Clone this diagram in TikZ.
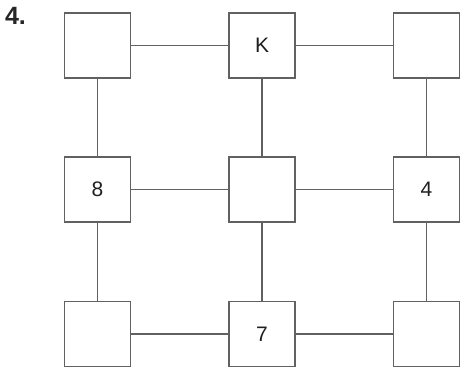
\documentclass[tikz,border=0pt]{standalone}
\usepackage{fontspec}
\setmainfont{Liberation Sans}
\begin{document}
\begin{tikzpicture}[x=1pt,y=-1pt,
  cell/.style={draw=black!62, line width=1.2pt, fill=white, minimum width=66pt, minimum height=65pt, inner sep=0pt, font=\fontsize{21}{21}\selectfont, text=black!88},
  link/.style={draw=black!62, line width=1.1pt}]
\useasboundingbox (0,0) rectangle (460,370);
\node[font=\bfseries\fontsize{25}{25}\selectfont, text=black!85, inner sep=0pt] (num) at (15.5,16) {4.};
\node[cell] (a1) at (97.5,45.5) {};
\node[cell] (a2) at (262,45.5) {K};
\node[cell] (a3) at (426.5,45.5) {};
\node[cell] (b1) at (97.5,189.5) {8};
\node[cell] (b2) at (262,189.5) {};
\node[cell] (b3) at (426.5,189.5) {4};
\node[cell] (c1) at (97.5,334) {};
\node[cell] (c2) at (262,334) {7};
\node[cell] (c3) at (426.5,334) {};
\draw[link] (a1) -- (a2);
\draw[link] (a2) -- (a3);
\draw[link] (b1) -- (b2);
\draw[link] (b2) -- (b3);
\draw[link] (c1) -- (c2);
\draw[link] (c2) -- (c3);
\draw[link] (a1) -- (b1);
\draw[link] (b1) -- (c1);
\draw[link] (a2) -- (b2);
\draw[link] (b2) -- (c2);
\draw[link] (a3) -- (b3);
\draw[link] (b3) -- (c3);
\end{tikzpicture}
\end{document}
